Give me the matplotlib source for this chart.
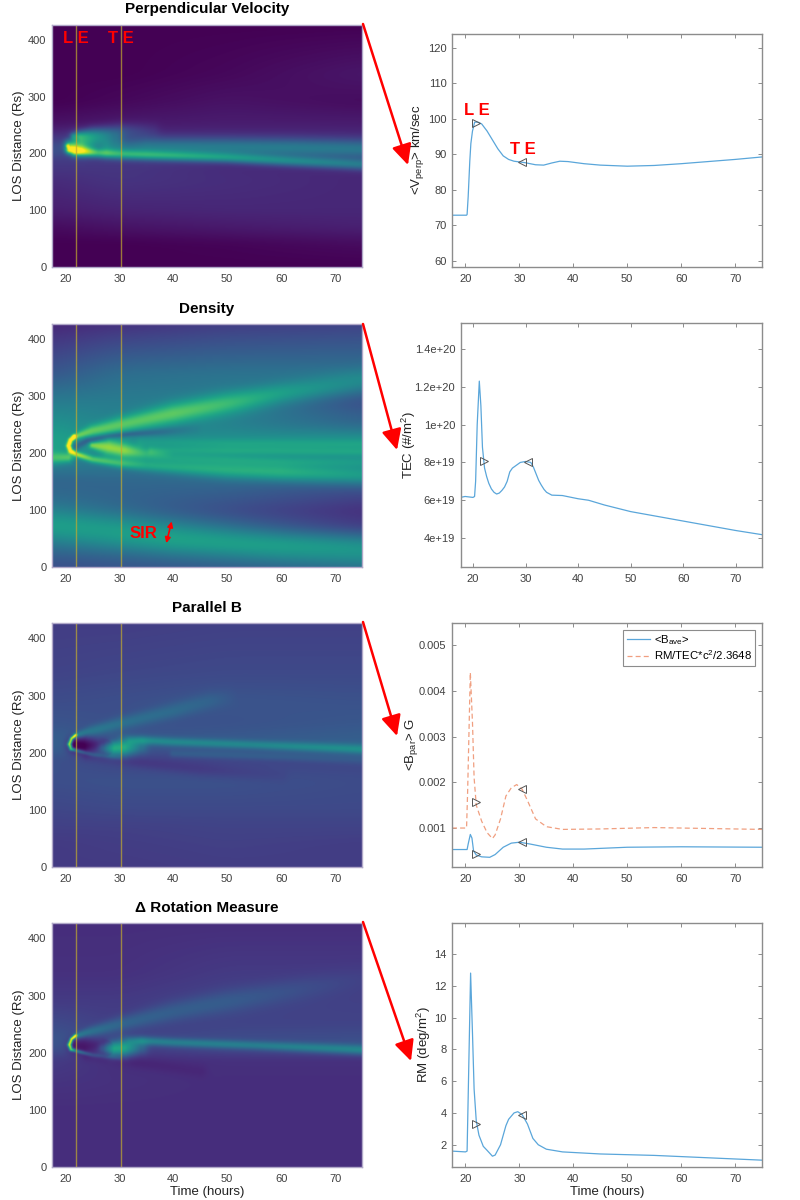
import numpy as np
import matplotlib
matplotlib.use("Agg")
import matplotlib.pyplot as plt
from matplotlib.patches import FancyArrowPatch

plt.rcParams['font.family'] = ['Liberation Sans', 'DejaVu Sans']
plt.rcParams['mathtext.default'] = 'regular'

FW, FH = 800, 1200
TITLES = ['Perpendicular Velocity', 'Density', 'Parallel B', '\u0394 Rotation Measure']
LE_T, TE_T = 21.95, 30.25

# ---------- line series ----------
v_t = [17.5,20.2,20.3,20.5,20.8,21,21.3,21.7,22.3,23,24,25,26,27,28,29,30,31,33,34.5,36,37.5,39,42,45,50,55,60,65,70,75]
v_y = [72.8,72.8,73,78,88,93,96.5,99,99,98.5,96.5,94,91.5,89.5,88.5,88,87.8,87.6,87,86.9,87.5,88,87.9,87.3,86.9,86.6,86.8,87.3,87.9,88.5,89.2]
tec_t = [17.6,18.5,20,20.3,20.5,20.8,21.2,21.5,21.8,22.2,22.6,23,23.5,24,24.5,25,25.5,26,26.5,27,27.5,28,29,30,31,31.5,32,32.5,33,33.5,34,35,37,40,42,45,50,55,60,65,70,75]
tec_y = [6.15,6.2,6.15,6.2,7,10,12.3,11,8.8,7.7,7.25,6.9,6.6,6.42,6.33,6.38,6.52,6.7,7.0,7.5,7.7,7.8,8.0,8.05,8.0,7.75,7.4,7.05,6.8,6.58,6.42,6.27,6.25,6.08,6.0,5.75,5.4,5.15,4.9,4.65,4.4,4.18]
b_t = [17.5,20.3,20.5,20.9,21.2,21.5,22,23,24.5,25.5,27,28.5,30,32,35,38,42,50,60,75]
b_y = [.00053,.00053,.00065,.00086,.00078,.0005,.00041,.00037,.00036,.00042,.00058,.00067,.00069,.00065,.00058,.00054,.00054,.00058,.00059,.00058]
c_t = [17.5,20.2,20.4,20.9,21.3,21.6,22,23,24,25,25.5,26.5,27.5,28.5,29.5,30.5,31.5,33,35,38,45,55,65,75]
c_y = [.001,.001,.0018,.0044,.0033,.0021,.0015,.00115,.0009,.00077,.00085,.0012,.0017,.00188,.00195,.00185,.0016,.0012,.00103,.00097,.00098,.00101,.00099,.00097]
rm_t = [17.5,20,20.3,20.5,20.95,21.3,21.6,22,22.5,23.3,24,25,25.5,26.5,27.5,28,29,29.7,30.5,31.5,32.5,33.5,35,38,45,55,65,75]
rm_y = [1.6,1.55,1.6,5,12.8,9,5.5,3.5,2.6,1.9,1.65,1.28,1.35,2.0,3.2,3.6,4.0,4.08,3.9,3.3,2.4,2.0,1.72,1.55,1.42,1.33,1.18,1.03]

# ---------- heat-map content ----------
BASE_T = [17.5, 30, 50, 75]
BASE_R = [0, 40, 70, 100, 150, 190, 205, 225, 250, 290, 340, 427]
vel_base = [[0,0,0,0],[0,0,.01,.03],[.03,.05,.07,.09],[.08,.10,.11,.11],[.12,.15,.13,.11],
            [.18,.16,.12,.11],[.28,.15,.13,.12],[.18,.13,.12,.12],[.05,.07,.08,.08],[0,.02,.05,.03],[0,0,.02,.06],[0,0,0,0]]
den_base = [[.24,.26,.27,.28],[.34,.34,.33,.34],[.38,.32,.26,.17],[.36,.31,.23,.14],[.32,.33,.34,.28],
            [.45,.42,.44,.46],[.58,.46,.5,.52],[.58,.48,.5,.52],[.52,.44,.44,.34],[.42,.42,.42,.24],[.27,.36,.38,.38],[.11,.14,.18,.2]]
par_base = [[.17,.17,.18,.18],[.17,.18,.19,.18],[.19,.19,.2,.2],[.21,.22,.22,.22],[.24,.25,.25,.23],
            [.25,.2,.2,.2],[.3,.25,.28,.3],[.3,.27,.28,.3],[.26,.24,.25,.27],[.23,.24,.26,.25],[.2,.21,.22,.22],[.18,.18,.19,.19]]
rot_base = [[.13,.13,.13,.13],[.13,.13,.13,.13],[.13,.13,.13,.13],[.13,.13,.13,.13],[.15,.14,.13,.13],
            [.18,.13,.14,.14],[.25,.18,.22,.24],[.27,.2,.23,.24],[.23,.18,.2,.2],[.17,.17,.2,.19],[.14,.14,.17,.17],[.13,.13,.13,.13]]

# each ridge: points of (hour, distance, sigma in pixels, added value)
vel_ridges = [
 [(20.4,212,1.8,.45),(20.8,206,3,.7),(21.7,204,3.4,.78),(23,203,3.4,.62),(26,200,3.2,.42),(30,198,3.4,.36),(40,195,3.5,.36),(50,192,3.5,.34),(60,187,3.7,.32),(75,180,4,.28)],
 [(20.8,215,4,.42),(23,218,7,.48),(25.5,221,7,.32),(29,224,6.5,.14)],
 [(21.5,230,2.5,.24),(25,234,4.5,.2),(30,238,5.5,.15),(36,240,5.5,.05)],
 [(28,208,6,.2),(35,210,7,.28),(50,210,7,.29),(62,209,7,.29),(75,207,7,.28)],
]
den_ridges = [
 [(17.5,191,4.5,.24),(20.6,192,3.5,.27),(22,190,2,0)],
 [(17.5,72,13,.18),(30,62,13,.23),(40,52,13,.25),(50,44,13,.24),(60,36,13,.23),(75,26,13,.2)],
 [(21.6,229,1.5,.6),(20.9,223,1.6,.63),(20.55,213,1.7,.63),(20.9,204,1.7,.58),(22,198,2,.42),(25,189,2.6,.3),(30,182,3.2,.27),(35,178,4,.2),(50,170,6,.24),(60,166,6.5,.26),(75,160,7,.22)],
 [(21.6,229,1.8,.25),(25,240,4,.27),(30,250,5.5,.3),(40,270,7.5,.32),(50,288,8,.27),(60,305,8,.21),(75,325,8.5,.13)],
 [(25,214,2.5,.3),(28,210,5.5,.36),(31,204,5.5,.37),(35,198,4.5,.2),(40,192,3.5,.12),(60,186,3.5,.1),(75,184,3.5,.08)],
 [(34,219,3.5,.06),(50,217,3.5,.08),(75,216,3.5,.06)],
 [(36,205,3,.09),(50,204,3,.1),(75,202,3,.08)],
 [(22,212,3,-.2),(24,222,2.5,-.22),(28,230,2.2,-.2),(32,234,2.2,-.18),(38,238,3,-.12),(44,243,4,-.03)],
]
par_ridges = [
 [(21.9,230,1,.7),(21.1,224,1.2,.75),(20.7,214,1.4,.75),(21,206,1.3,.6),(22,203,1.2,.25),(25,196,1.5,.1),(30,191,1.5,.05)],
 [(21.8,229,2,.2),(25,238,3.5,.14),(30,250,4.5,.13),(40,272,5.5,.1),(47,290,6,.06),(52,298,6,0)],
 [(21.8,213,5.5,-.3),(23.5,212,6.5,-.28),(26,214,4.5,-.15),(29,222,3,-.05)],
 [(27,208,3.5,.12),(29,207,5.5,.36),(31,208,6,.36),(34,209,5,.12)],
 [(32,221,3,.14),(34,221,3,.22),(40,218,3,.2),(55,213,3,.18),(75,205,3.5,.22)],
 [(24,192,3,-.03),(32,184,4,-.045),(45,170,5,-.05),(60,158,5,-.02)],
 [(40,197,2.5,.06),(60,192,3,.07),(75,187,3.5,.07)],
]
rot_ridges = [
 [(21.9,230,1,.75),(21.1,224,1.2,.8),(20.7,214,1.4,.8),(21,206,1.3,.65),(22,203,1.2,.3),(25,196,1.5,.1),(30,191,1.5,.05)],
 [(21.8,229,2,.22),(25,238,3.5,.16),(30,250,5,.14),(40,272,7,.11),(50,290,8,.09),(62,310,8,.06),(75,330,8,.02)],
 [(21.8,213,5.5,-.17),(23.5,212,6.5,-.16),(26,214,4.5,-.1),(29,222,3,-.02)],
 [(27,208,3.5,.12),(29,207,5.5,.4),(31,208,6,.4),(34,209,5,.14)],
 [(32,221,3,.12),(34,221,3,.24),(40,218,3,.22),(55,213,3,.2),(75,205,3.5,.24)],
 [(24,192,3,-.02),(32,184,4,-.03),(45,168,5,-.025)],
]

# ---------- helpers ----------
def box(left, top, right, bottom):
    return [left/FW, 1-bottom/FH, (right-left)/FW, (bottom-top)/FH]

grid_t = np.linspace(17.5, 75, 620)
grid_r = np.linspace(0, 427, 520)
TT, RR = np.meshgrid(grid_t, grid_r)
PX_T, PX_R = 5.39, 0.5675

def blur(fld, n, axis):
    k = np.ones(n)/n
    pw = [(0,0),(0,0)]
    pw[axis] = (n//2, n//2)
    pad = np.pad(fld, pw, mode='edge')
    return np.apply_along_axis(lambda c: np.convolve(c, k, mode='valid'), axis, pad)

def base_field(rows):
    rows = np.array(rows, float)
    cols = np.array([np.interp(grid_r, BASE_R, rows[:, j]) for j in range(rows.shape[1])])
    fld = np.array([np.interp(grid_t, BASE_T, cols[:, i]) for i in range(cols.shape[1])])
    return blur(blur(fld, 25, 0), 81, 1)

def ridge_field(points):
    out = np.zeros_like(TT)
    best = np.full_like(TT, np.inf)
    for (t0,r0,w0,a0),(t1,r1,w1,a1) in zip(points[:-1], points[1:]):
        dx, dy = (t1-t0)*PX_T, (r1-r0)*PX_R
        px, py = (TT-t0)*PX_T, (RR-r0)*PX_R
        u = np.clip((px*dx+py*dy)/(dx*dx+dy*dy), 0, 1)
        d = np.hypot(px-u*dx, py-u*dy)
        w = w0+u*(w1-w0)
        a = a0+u*(a1-a0)
        n = d/w
        m = n < best
        best[m] = n[m]
        out[m] = a[m]
    return out*np.exp(-0.5*best*best)

def field(rows, ridges):
    f = base_field(rows)
    for rd in ridges:
        f = f+ridge_field(rd)
    return np.clip(f, 0, 1)

# ---------- figure ----------
fig = plt.figure(figsize=(FW/100, FH/100), dpi=100)
GREY, TXT = '#8c8c8c', '#404040'
LBL = 9.5
TICK = 8

left_boxes = [(52,24.5,362,267),(52,324,362,567),(52,623,362,867),(52,923,362,1167)]
right_boxes = [(452,33.7,762,266.7),(460.7,322.7,762,567),(452,622.7,762,867),(452,922.7,762,1167)]
bases = [vel_base, den_base, par_base, rot_base]
ridges = [vel_ridges, den_ridges, par_ridges, rot_ridges]

def style(ax, inner):
    for s in ax.spines.values():
        s.set_color(GREY if inner else '#b0a8c8')
        s.set_linewidth(1)
    ax.tick_params(direction='in', length=3 if inner else 0, width=.7, color=GREY,
                   labelcolor=TXT, labelsize=TICK, pad=5, top=inner, right=inner)
    ax.tick_params(axis='y', pad=4)

def ylab(ax, text, x_px, left, width):
    ax.set_ylabel(text, fontsize=LBL, color='#222222', va='center')
    ax.yaxis.set_label_coords((x_px-left)/width, .5)

for i in range(4):
    ax = fig.add_axes(box(*left_boxes[i]))
    ax.imshow(field(bases[i], ridges[i]), extent=[17.5,75,0,427], origin='lower', aspect='auto',
              cmap='viridis', vmin=0, vmax=1, interpolation='bilinear')
    ax.axvline(LE_T, color='#c2ab30', alpha=.7, lw=1)
    ax.axvline(TE_T, color='#c2ab30', alpha=.7, lw=1)
    ax.set_xticks(range(20,71,10)); ax.set_yticks(range(0,401,100))
    style(ax, False)
    ax.set_title(TITLES[i], fontsize=11, fontweight='bold', pad=8)
    ylab(ax, 'LOS Distance (Rs)', 19, 52, 310)
    if i == 3:
        ax.set_xlabel('Time (hours)', fontsize=LBL, color='#222222', labelpad=1.5)
    if i == 0:
        ax.text(22, 402, 'L E', color='red', fontweight='bold', fontsize=12, ha='center', va='center')
        ax.text(30.3, 402, 'T E', color='red', fontweight='bold', fontsize=12, ha='center', va='center')
    if i == 1:
        ax.text(34.5, 59, 'SIR', color='red', fontweight='bold', fontsize=12, ha='center', va='center')
        ax.add_patch(FancyArrowPatch((38.7,42),(39.7,80), arrowstyle='<|-|>', mutation_scale=8, color='red', lw=1.2, shrinkA=0, shrinkB=0))

LINE, DASH = '#5aa6da', '#f09f80'
def marks(ax, t1, y1, t2, y2):
    ax.plot([t1],[y1], '>', mfc='none', mec='#555555', ms=5.5, mew=.7, zorder=5)
    ax.plot([t2],[y2], '<', mfc='none', mec='#555555', ms=5.5, mew=.7, zorder=5)

# velocity
ax = fig.add_axes(box(*right_boxes[0]))
ax.plot(v_t, v_y, color=LINE, lw=.9)
marks(ax, 22, 98.8, 30.4, 87.9)
ax.set_xlim(17.5,75); ax.set_ylim(58.3,123.9); ax.set_yticks(range(60,121,10))
ylab(ax, r'<V$_{perp}$> km/sec', 418, 452, 310)
ax.text(22.1, 102.2, 'L E', color='red', fontweight='bold', fontsize=12, ha='center', va='center')
ax.text(30.7, 91.3, 'T E', color='red', fontweight='bold', fontsize=12, ha='center', va='center')
ax.set_xticks(range(20,71,10)); style(ax, True)

# TEC
ax = fig.add_axes(box(*right_boxes[1]))
ax.plot(tec_t, np.array(tec_y)*1e19, color=LINE, lw=.9)
marks(ax, 22, 8.1e19, 30.4, 8.03e19)
ax.set_xlim(17.66,75); ax.set_ylim(2.47e19,1.539e20)
ax.set_yticks([4e19,6e19,8e19,1e20,1.2e20,1.4e20])
ax.set_yticklabels(['4e+19','6e+19','8e+19','1e+20','1.2e+20','1.4e+20'])
ylab(ax, r'TEC (#/m$^2$)', 409, 460.7, 301.3)
ax.set_xticks(range(20,71,10)); style(ax, True)

# parallel B
ax = fig.add_axes(box(*right_boxes[2]))
ax.plot(b_t, b_y, color=LINE, lw=.9, label=r'<B$_{ave}$>')
ax.plot(c_t, c_y, color=DASH, lw=.9, ls=(0,(4,2.5)), label=r'RM/TEC*c$^2$/2.3648')
marks(ax, 21.9, .00044, 30.4, .00069)
marks(ax, 21.9, .00158, 30.4, .00186)
ax.set_xlim(17.5,75); ax.set_ylim(.000148,.00549)
ax.set_yticks([.001,.002,.003,.004,.005])
ax.set_yticklabels(['0.001','0.002','0.003','0.004','0.005'])
ylab(ax, r'<B$_{par}$> G', 412, 452, 310)
ax.set_xticks(range(20,71,10)); style(ax, True)
leg = ax.legend(loc='upper right', bbox_to_anchor=((755-452)/310, (867-630)/244.3), fontsize=8.2,
                fancybox=False, framealpha=1, edgecolor=GREY, borderaxespad=0,
                handlelength=2.0, handletextpad=.35, labelspacing=.1, borderpad=.3)
leg.get_frame().set_linewidth(.8)

# RM
ax = fig.add_axes(box(*right_boxes[3]))
ax.plot(rm_t, rm_y, color=LINE, lw=.9)
marks(ax, 21.9, 3.3, 30.4, 3.9)
ax.set_xlim(17.5,75); ax.set_ylim(.6,15.97); ax.set_yticks(range(2,15,2))
ylab(ax, r'RM (deg/m$^2$)', 424, 452, 310)
ax.set_xlabel('Time (hours)', fontsize=LBL, color='#222222', labelpad=1.5)
ax.set_xticks(range(20,71,10)); style(ax, True)

# red connector arrows, in figure pixels
ARROWS = [((363,24),(408,165)), ((363,324),(397,450)), ((363,622),(397,736)), ((363,922),(411,1061))]
for (x0,y0),(x1,y1) in ARROWS:
    fig.add_artist(FancyArrowPatch((x0/FW,1-y0/FH),(x1/FW,1-y1/FH), transform=fig.transFigure,
        arrowstyle='-|>,head_length=1.55,head_width=.75', mutation_scale=8, color='red', lw=1.8,
        shrinkA=0, shrinkB=0, zorder=10))

fig.savefig('out.png', dpi=100)
